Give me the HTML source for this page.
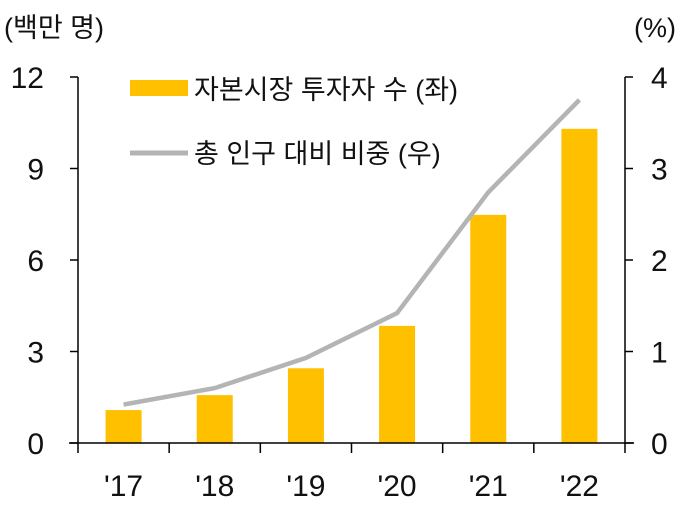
<!DOCTYPE html>
<html><head><meta charset="utf-8"><style>
body{margin:0;background:#fff}
svg text{font-family:"Liberation Sans","Noto Sans CJK KR",sans-serif;fill:#111}
svg text.num{font-family:"Liberation Sans Narrow","Liberation Sans",sans-serif}
</style></head><body>
<svg width="683" height="504">
<g id="bars"></g>
<g id="axes"></g>
<text x="4" y="37" font-size="27">(백만 명)</text>
<text x="634" y="37" font-size="27">(%)</text>
<g>
<rect x="130" y="80" width="58" height="16" fill="#FFC000"/>
<text x="194" y="99" font-size="27">자본시장 투자자 수 (좌)</text>
<line x1="130" y1="153" x2="188" y2="153" stroke="#B4B4B4" stroke-width="5"/>
<text x="194" y="163" font-size="27">총 인구 대비 비중 (우)</text>
</g>
</svg>
<script>
const categories=["'17","'18","'19","'20","'21","'22"];
const investors=[1.08,1.57,2.45,3.84,7.48,10.3];
const share=[0.42,0.6,0.93,1.42,2.74,3.75];
const leftTicks=[0,3,6,9,12];
const rightTicks=[0,1,2,3,4];
const NS="http://www.w3.org/2000/svg";
const X0=78,X1=625,Y0=443,Y1=77;
const yL=v=>Y0-(v/12)*(Y0-Y1);
const yR=v=>Y0-(v/4)*(Y0-Y1);
const bw=(X1-X0)/categories.length;
const xc=i=>X0+bw*(i+0.5);
function mk(t,a,p){const e=document.createElementNS(NS,t);for(const k in a)e.setAttribute(k,a[k]);p.appendChild(e);return e;}
const bars=document.getElementById('bars'),axes=document.getElementById('axes');
const svg=document.querySelector('svg');
investors.forEach((v,i)=>{
 const r=mk('rect',{x:xc(i)-18,y:yL(v),width:36,height:Y0-yL(v),fill:'#FFC000'},bars);
 
 
});
const pl=mk('polyline',{points:share.map((v,i)=>xc(i)+','+yR(v)).join(' '),fill:'none',stroke:'#B4B4B4','stroke-width':4.5},svg);


mk('line',{x1:X0,y1:Y1,x2:X0,y2:Y0,stroke:'#000','stroke-width':1.5},axes);
mk('line',{x1:X1,y1:Y1,x2:X1,y2:Y0,stroke:'#000','stroke-width':1.5},axes);
mk('line',{x1:69,y1:Y0,x2:634,y2:Y0,stroke:'#000','stroke-width':1.5},axes);
leftTicks.forEach(v=>{
 mk('line',{x1:70,y1:yL(v),x2:X0,y2:yL(v),stroke:'#000','stroke-width':1.5},axes);
 const t=mk('text',{x:44,y:yL(v)+11,'font-size':30,'text-anchor':'end','class':'num'},axes);t.textContent=v;
 
 
});
rightTicks.forEach(v=>{
 mk('line',{x1:X1,y1:yR(v),x2:633,y2:yR(v),stroke:'#000','stroke-width':1.5},axes);
 const t=mk('text',{x:651,y:yR(v)+11,'font-size':30,'class':'num'},axes);t.textContent=v;
 
 
});
for(let i=0;i<=categories.length;i++){
 mk('line',{x1:X0+bw*i,y1:Y0,x2:X0+bw*i,y2:Y0+10,stroke:'#000','stroke-width':1.5},axes);
}
categories.forEach((c,i)=>{
 const t=mk('text',{x:xc(i),y:496,'font-size':30,'text-anchor':'middle','class':'num'},axes);t.textContent=c;
 
 
});
</script>
</body></html>
